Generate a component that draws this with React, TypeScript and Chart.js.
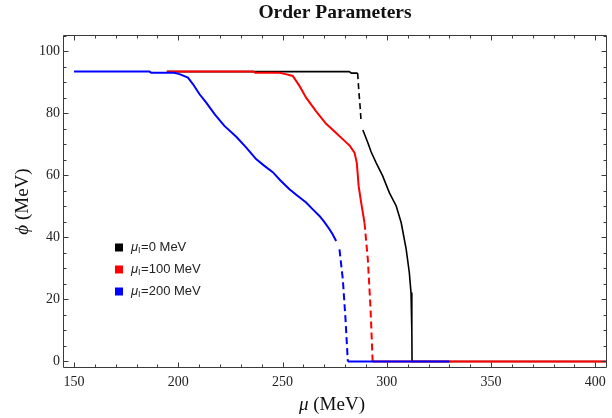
import React, { useEffect, useRef } from "react";
import { Chart, registerables } from "chart.js";

Chart.register(...registerables);

// ---- Data (μ in MeV, φ in MeV) ----
const blackUpperMu = [194.5, 282.0, 283.0, 286.0];
const blackUpperPhi = [93.4, 93.4, 92.9, 92.9];
const blackDashMu = [286.0, 286.6, 287.2, 287.7];
const blackDashPhi = [92.9, 87.0, 82.0, 77.0];
const blackLowerMu = [288.5, 290.9, 292.5, 294.9, 298.0, 301.2, 304.5, 306.9, 309.3, 310.8, 311.6, 312.0, 312.1];
const blackLowerPhi = [74.6, 70.5, 67.5, 64.0, 59.8, 54.4, 50.1, 44.7, 36.1, 28.6, 22.2, 10.0, 0.0];
const blackZeroMu = [312.1, 405.6];
const blackZeroPhi = [0, 0];

const redUpperMu = [194.5, 236.0, 237.0, 248.5, 251.5, 254.9, 258.1, 261.3, 266.1, 270.9, 275.7, 280.5, 282.1, 284.5, 285.6, 286.5, 287.7, 289.3];
const redUpperPhi = [93.4, 93.4, 93.0, 93.0, 92.6, 92.0, 88.8, 85.0, 80.6, 76.6, 73.6, 70.6, 69.6, 67.3, 64.0, 56.5, 51.2, 44.7];
const redDashMu = [289.3, 290.9, 292.2, 293.2];
const redDashPhi = [44.7, 32.9, 17.0, 0.0];
const redZeroMu = [293.2, 405.6];
const redZeroPhi = [0, 0];

const blueUpperMu = [150.0, 186.2, 187.0, 198.0, 200.6, 204.6, 207.0, 210.2, 213.4, 217.4, 222.1, 227.8, 232.6, 237.3, 241.0, 245.3, 249.0, 253.3, 257.0, 261.3, 264.5, 267.7, 270.0, 272.5, 274.0, 275.7];
const blueUpperPhi = [93.4, 93.4, 93.0, 93.0, 92.6, 91.5, 89.4, 86.1, 83.4, 79.7, 75.9, 72.4, 68.9, 65.2, 63.2, 61.0, 58.3, 55.5, 53.5, 51.2, 49.0, 46.9, 45.0, 42.6, 41.0, 38.8];
const blueDashMu = [277.3, 278.9, 280.2, 281.3];
const blueDashPhi = [36.1, 26.5, 13.5, 0.0];
const blueZeroMu = [281.3, 330.0];
const blueZeroPhi = [0, 0];

const legendValues = ["0 MeV", "100 MeV", "200 MeV"];
const seriesColors = ["#000000", "#ff0000", "#0000ff"];

const titleText = "Order Parameters";
const xTitleSymbol = "μ";
const yTitleSymbol = "ϕ";
const axisUnit = " (MeV)";

const xMin = 144.7;
const xMax = 405.6;
const yMin = -2.1;
const yMax = 105.2;
const xMajorStep = 50;
const xMinorStep = 10;
const yMajorStep = 20;
const yMinorStep = 5;

const pts = (mu: number[], phi: number[]) => mu.map((m, i) => ({ x: m, y: phi[i] }));

const SERIF = "'Liberation Serif', 'Times New Roman', serif";
const SANS = "'Liberation Sans', Arial, sans-serif";

const decorPlugin = {
  id: "decor",
  afterDraw(chart: any) {
    const { ctx, chartArea: a, scales } = chart;
    const xs = scales.x;
    const ys = scales.y;
    ctx.save();
    // frame
    ctx.strokeStyle = "#3a3a3a";
    ctx.lineWidth = 1;
    const L = Math.round(a.left) + 0.5;
    const R = Math.round(a.right) - 0.5;
    const T = Math.round(a.top) + 0.5;
    const B = Math.round(a.bottom) - 0.5;
    ctx.beginPath();
    ctx.rect(L, T, R - L, B - T);
    ctx.stroke();
    // ticks
    ctx.beginPath();
    for (let v = Math.ceil(xMin / xMinorStep) * xMinorStep; v <= xMax; v += xMinorStep) {
      const major = Math.abs(v % xMajorStep) < 1e-6;
      const len = major ? 5 : 3;
      const px = Math.round(xs.getPixelForValue(v)) + 0.5;
      ctx.moveTo(px, B);
      ctx.lineTo(px, B - len);
      ctx.moveTo(px, T);
      ctx.lineTo(px, T + len);
    }
    for (let v = Math.ceil(yMin / yMinorStep) * yMinorStep; v <= yMax; v += yMinorStep) {
      const major = Math.abs(v % yMajorStep) < 1e-6;
      const len = major ? 5 : 3;
      const py = Math.round(ys.getPixelForValue(v)) + 0.5;
      ctx.moveTo(L, py);
      ctx.lineTo(L + len, py);
      ctx.moveTo(R, py);
      ctx.lineTo(R - len, py);
    }
    ctx.stroke();

    const cx = (a.left + a.right) / 2;
    const cy = (a.top + a.bottom) / 2;
    ctx.fillStyle = "#111";
    // title
    ctx.font = `bold 19.5px ${SERIF}`;
    ctx.textAlign = "center";
    ctx.textBaseline = "middle";
    ctx.fillText(titleText, cx, 13);

    // x axis title
    const fs = 19;
    ctx.font = `italic ${fs}px ${SERIF}`;
    const xw1 = ctx.measureText(xTitleSymbol).width;
    ctx.font = `${fs}px ${SERIF}`;
    const xw2 = ctx.measureText(axisUnit).width;
    const xStart = cx - 3 - (xw1 + xw2) / 2;
    ctx.textAlign = "left";
    ctx.font = `italic ${fs}px ${SERIF}`;
    ctx.fillText(xTitleSymbol, xStart, 405);
    ctx.font = `${fs}px ${SERIF}`;
    ctx.fillText(axisUnit, xStart + xw1, 405);

    // y axis title
    ctx.save();
    ctx.translate(23, cy);
    ctx.rotate(-Math.PI / 2);
    ctx.font = `italic ${fs}px ${SERIF}`;
    const w1 = ctx.measureText(yTitleSymbol).width;
    ctx.font = `${fs}px ${SERIF}`;
    const w2 = ctx.measureText(axisUnit).width;
    const start = -(w1 + w2) / 2;
    ctx.textAlign = "left";
    ctx.textBaseline = "middle";
    ctx.font = `italic ${fs}px ${SERIF}`;
    ctx.fillText(yTitleSymbol, start, 0);
    ctx.font = `${fs}px ${SERIF}`;
    ctx.fillText(axisUnit, start + w1, 0);
    ctx.restore();

    // legend
    const lx = a.left + 52;
    const ly0 = a.top + 212.5;
    const dy = 22;
    legendValues.forEach((val, i) => {
      const y = ly0 + i * dy;
      ctx.fillStyle = seriesColors[i];
      ctx.fillRect(lx, y - 4, 8, 8);
      ctx.fillStyle = "#222";
      ctx.textAlign = "left";
      ctx.textBaseline = "middle";
      let x = lx + 16;
      ctx.font = `italic 13px ${SANS}`;
      ctx.fillText("μ", x, y);
      x += ctx.measureText("μ").width;
      ctx.font = `9px ${SANS}`;
      ctx.fillText("I", x, y + 3);
      x += ctx.measureText("I").width + 0.5;
      ctx.font = `13px ${SANS}`;
      ctx.fillText("=" + val, x, y);
    });
    ctx.restore();
  },
};

export default function App() {
  const ref = useRef<HTMLCanvasElement | null>(null);
  useEffect(() => {
    if (!ref.current) return;
    const solid = (data: any, color: string, width: number, order: number) => ({
      data,
      borderColor: color,
      backgroundColor: color,
      borderWidth: width,
      pointRadius: 0,
      fill: false,
      tension: 0,
      order,
    });
    const dashed = (data: any, color: string, width: number, order: number, dash: number[]) => ({
      ...solid(data, color, width, order),
      borderDash: dash,
    });
    const chart = new Chart(ref.current, {
      type: "line",
      data: {
        datasets: [
          solid(pts(blueUpperMu, blueUpperPhi), seriesColors[2], 2, 0),
          dashed(pts(blueDashMu, blueDashPhi), seriesColors[2], 2, 0, [7, 4]),
          solid(pts(blueZeroMu, blueZeroPhi), seriesColors[2], 2.2, 0),
          solid(pts(redUpperMu, redUpperPhi), seriesColors[1], 2, 1),
          dashed(pts(redDashMu, redDashPhi), seriesColors[1], 2, 1, [7, 4]),
          solid(pts(redZeroMu, redZeroPhi), seriesColors[1], 2.2, 1),
          solid(pts(blackUpperMu, blackUpperPhi), seriesColors[0], 1.6, 2),
          dashed(pts(blackDashMu, blackDashPhi), seriesColors[0], 1.6, 2, [6, 4]),
          solid(pts(blackLowerMu, blackLowerPhi), seriesColors[0], 1.6, 2),
          solid(pts(blackZeroMu, blackZeroPhi), seriesColors[0], 1.6, 2),
        ],
      },
      options: {
        responsive: false,
        animation: false,
        devicePixelRatio: 1,
        layout: { padding: { top: 35, left: 0, right: 5, bottom: 0 } },
        plugins: {
          legend: { display: false },
          title: { display: false },
          tooltip: { enabled: false },
        },
        scales: {
          x: {
            type: "linear",
            min: xMin,
            max: xMax,
            grid: { display: false, drawTicks: false },
            border: { display: false },
            ticks: {
              stepSize: xMajorStep,
              includeBounds: false,
              padding: 6,
              maxRotation: 0,
              color: "#222",
              font: { family: SERIF, size: 14 },
            },
            afterFit: (s: any) => {
              s.height = 50;
            },
          },
          y: {
            type: "linear",
            min: yMin,
            max: yMax,
            grid: { display: false, drawTicks: false },
            border: { display: false },
            ticks: {
              stepSize: yMajorStep,
              includeBounds: false,
              padding: 3,
              color: "#222",
              font: { family: SERIF, size: 14 },
            },
            afterFit: (s: any) => {
              s.width = 63;
            },
          },
        },
      },
      plugins: [decorPlugin],
    } as any);
    return () => chart.destroy();
  }, []);
  return (
    <div style={{ position: "fixed", left: 0, top: 0, width: 612, height: 418, background: "#fff" }}>
      <canvas ref={ref} width={612} height={418} style={{ display: "block" }} />
    </div>
  );
}
